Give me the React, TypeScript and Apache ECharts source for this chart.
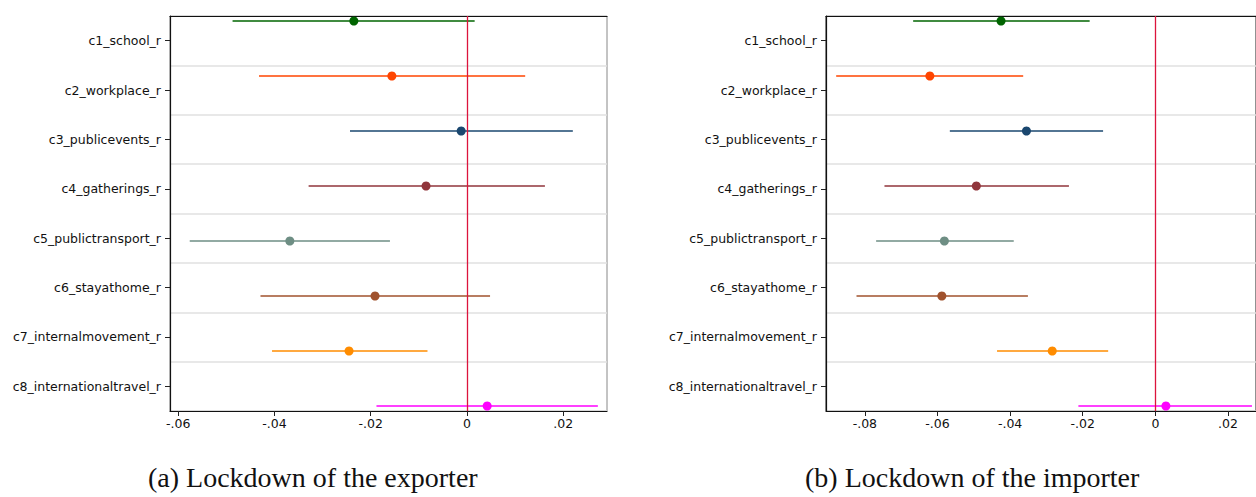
import React, { useEffect, useRef } from "react";
import * as echarts from "echarts";

const categories = [
  "c1_school_r",
  "c2_workplace_r",
  "c3_publicevents_r",
  "c4_gatherings_r",
  "c5_publictransport_r",
  "c6_stayathome_r",
  "c7_internalmovement_r",
  "c8_internationaltravel_r",
];
const colors = ["#006400", "#ff4500", "#1a476f", "#90353b", "#6e8e84", "#a0522d", "#ff8c00", "#ff00ff"];

const exporterEst = [-0.0235, -0.0156, -0.0012, -0.0085, -0.0368, -0.0191, -0.0245, 0.0042];
const exporterLo = [-0.0487, -0.0432, -0.0243, -0.0329, -0.0576, -0.0429, -0.0405, -0.0188];
const exporterHi = [0.0016, 0.0121, 0.022, 0.0162, -0.016, 0.0048, -0.0082, 0.0272];

const importerEst = [-0.0425, -0.0621, -0.0355, -0.0493, -0.0581, -0.0588, -0.0284, 0.0029];
const importerLo = [-0.0667, -0.0879, -0.0566, -0.0746, -0.0769, -0.0823, -0.0436, -0.0212];
const importerHi = [-0.0181, -0.0364, -0.0144, -0.0238, -0.039, -0.0351, -0.013, 0.0266];

const exporterTicks = [-0.06, -0.04, -0.02, 0, 0.02];
const importerTicks = [-0.08, -0.06, -0.04, -0.02, 0, 0.02];
const exporterRange = [-0.0617, 0.0291];
const importerRange = [-0.0907, 0.02771];

const captions = ["(a) Lockdown of the exporter", "(b) Lockdown of the importer"];

const fmt = (v: number) => {
  if (Math.abs(v) < 1e-9) return "0";
  const s = Math.abs(v).toFixed(2).replace(/^0/, "");
  return (v < 0 ? "-" : "") + s;
};

export default function App() {
  const ref = useRef<HTMLDivElement>(null);
  useEffect(() => {
    if (!ref.current) return;
    const chart = echarts.init(ref.current, null, { renderer: "svg" });
    const panels = [
      { est: exporterEst, lo: exporterLo, hi: exporterHi, ticks: exporterTicks, range: exporterRange, left: 170, width: 437, border: "#888" },
      { est: importerEst, lo: importerLo, hi: importerHi, ticks: importerTicks, range: importerRange, left: 826, width: 431, border: "#222" },
    ];
    const n = categories.length;
    const pad = 5 / 55;
    const grids: any[] = [];
    const xAxes: any[] = [];
    const yAxes: any[] = [];
    const series: any[] = [];
    panels.forEach((p, k) => {
      grids.push({
        left: p.left,
        top: 16,
        width: p.width,
        height: 395,
        show: true,
        borderColor: p.border,
        borderWidth: 1,
        containLabel: false,
      });
      xAxes.push({
        type: "value",
        gridIndex: k,
        min: p.range[0],
        max: p.range[1],
        axisLine: { show: true, onZero: false, lineStyle: { color: "#111", width: 1.2 } },
        axisTick: { show: true, length: 5, customValues: p.ticks, lineStyle: { color: "#222" } },
        axisLabel: {
          customValues: p.ticks,
          formatter: fmt,
          color: "#111",
          fontFamily: "DejaVu Sans",
          fontSize: 12.5,
          margin: 6,
        },
        splitLine: { show: false },
      });
      xAxes.push({
        type: "value",
        gridIndex: k,
        position: "top",
        show: true,
        min: 0,
        max: 1,
        axisLine: { show: true, onZero: false, lineStyle: { color: "#111", width: 1.2 } },
        axisTick: { show: false },
        axisLabel: { show: false },
        splitLine: { show: false },
      });
      yAxes.push({
        type: "category",
        gridIndex: k,
        data: categories,
        inverse: true,
        boundaryGap: true,
        axisLine: { show: true, onZero: false, lineStyle: { color: "#111", width: 1.2 } },
        axisTick: { show: true, alignWithLabel: true, length: 5, lineStyle: { color: "#222" } },
        axisLabel: { color: "#111", fontFamily: "DejaVu Sans", fontSize: 12.5, margin: 9 },
        splitLine: { show: true, lineStyle: { color: "#e0e0e0", width: 1.5 } },
      });
      yAxes.push({
        type: "value",
        gridIndex: k,
        show: false,
        inverse: true,
        min: 1 - pad,
        max: n + pad,
        splitLine: { show: false },
      });
      const ciData = p.lo.map((lo, i) => [lo, p.hi[i], i + 1]);
      series.push({
        type: "custom",
        xAxisIndex: 2 * k,
        yAxisIndex: 2 * k + 1,
        encode: { x: [0, 1], y: 2 },
        data: ciData,
        z: 3,
        renderItem: (params: any, api: any) => {
          const a = api.coord([api.value(0), api.value(2)]);
          const b = api.coord([api.value(1), api.value(2)]);
          return {
            type: "line",
            shape: { x1: a[0], y1: a[1], x2: b[0], y2: b[1] },
            style: { stroke: colors[params.dataIndex], lineWidth: 1.3 },
          };
        },
      });
      series.push({
        type: "scatter",
        xAxisIndex: 2 * k,
        yAxisIndex: 2 * k + 1,
        symbol: "circle",
        symbolSize: 9,
        z: 4,
        data: p.est.map((v, i) => ({ value: [v, i + 1], itemStyle: { color: colors[i], opacity: 1 } })),
        markLine: {
          silent: true,
          symbol: ["none", "none"],
          label: { show: false },
          lineStyle: { color: "#dc143c", width: 1.3, type: "solid", opacity: 1 },
          data: [{ xAxis: 0 }],
        },
      });
    });
    chart.setOption({
      animation: false,
      backgroundColor: "#fff",
      grid: grids,
      xAxis: xAxes,
      yAxis: yAxes,
      series,
      graphic: [
        {
          type: "text",
          left: 148,
          top: 463,
          style: { text: captions[0], fontFamily: "Liberation Serif", fontSize: 28, fill: "#111" },
        },
        {
          type: "text",
          left: 805,
          top: 463,
          style: { text: captions[1], fontFamily: "Liberation Serif", fontSize: 28, fill: "#111" },
        },
      ],
    });
    return () => chart.dispose();
  }, []);
  return (
    <div
      ref={ref}
      style={{ position: "absolute", left: 0, top: 0, width: 1256, height: 497, overflow: "hidden", background: "#fff" }}
    />
  );
}
